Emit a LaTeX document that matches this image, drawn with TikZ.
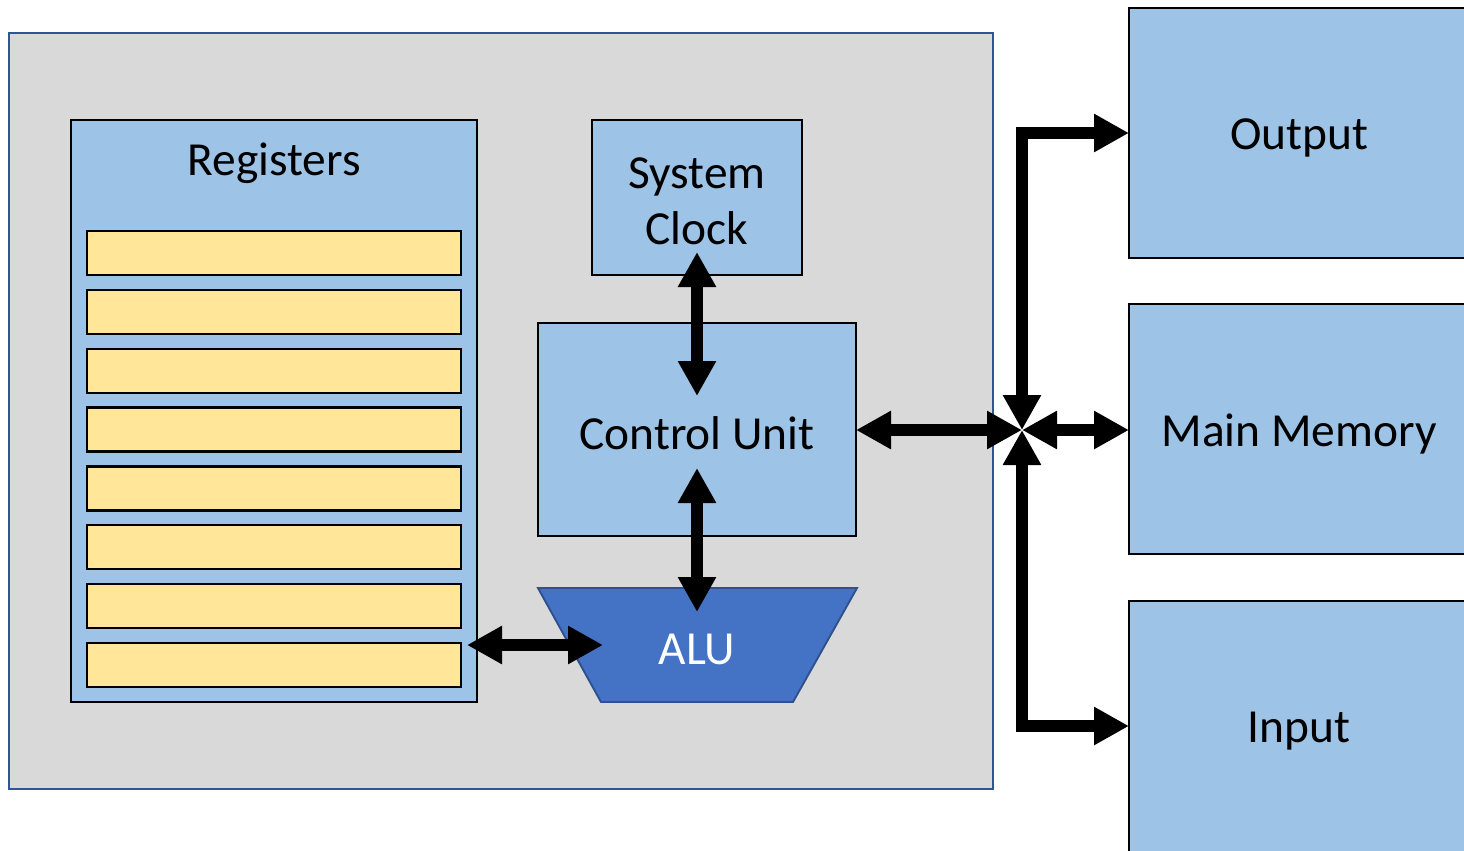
\documentclass[tikz,border=0pt]{standalone}
\usepackage{fontspec}
\setmainfont{Carlito}
\usetikzlibrary{arrows.meta,calc}
\definecolor{cpugray}{HTML}{D9D9D9}
\definecolor{cpuedge}{HTML}{2F5597}
\definecolor{unitblue}{HTML}{9DC3E6}
\definecolor{regyellow}{HTML}{FFE699}
\definecolor{alublue}{HTML}{4472C4}
\definecolor{aluedge}{HTML}{2F528F}
\newcommand{\upx}{0.02cm}
\begin{document}
\begin{tikzpicture}[x=0.02cm,y=-0.02cm,
  every node/.style={font=\fontsize{27}{32}\selectfont, inner sep=0pt, outer sep=0pt},
  cpubox/.style={draw=cpuedge, fill=cpugray, line width=1.1pt, minimum width=984*\upx, minimum height=756*\upx},
  unit/.style={draw=black, fill=unitblue, line width=1.3pt},
  slot/.style={draw=black, fill=regyellow, line width=1.3pt, minimum width=374*\upx, minimum height=44*\upx},
  alushape/.style={draw=aluedge, fill=alublue, line width=1.1pt},
  lbl/.style={align=center, text=black},
  dbl/.style={line width=12*\upx, {Triangle[length=35*\upx, width=36*\upx]}-{Triangle[length=35*\upx, width=36*\upx]}}
]
\useasboundingbox (0,0) rectangle (1464,850);
\clip (0,0) rectangle (1464,850);

% processor enclosure
\node[cpubox] (cpu) at (501,411) {};

% register file
\node[unit, minimum width=406*\upx, minimum height=582*\upx] (regs) at (274,411) {};
\node[lbl] (regslbl) at (274,163) {Registers};
\foreach \i in {0,...,7}
  \node[slot] (slot\i) at (274,{253+58.85*\i}) {};

% clock and control unit
\node[unit, minimum width=210*\upx, minimum height=155*\upx] (clock) at (697,197.5) {};
\node[lbl] (clocklbl) at (697,201) {System\\Clock};
\node[unit, minimum width=318*\upx, minimum height=213*\upx] (cu) at (697,429.5) {};
\node[lbl] (culbl) at (697,433) {Control Unit};

% arithmetic logic unit
\draw[alushape] (538,588) -- (857,588) -- (793,702) -- (601,702) -- cycle;
\node[lbl, text=white] (alu) at (697,649) {ALU};

% external devices
\node[unit, minimum width=340*\upx, minimum height=250*\upx] (out) at (1299,133) {};
\node[lbl] (outlbl) at (1299,138) {Output};
\node[unit, minimum width=340*\upx, minimum height=250*\upx] (mem) at (1299,429) {};
\node[lbl] (memlbl) at (1299,434) {Main Memory};
\node[unit, minimum width=340*\upx, minimum height=262*\upx] (in) at (1299,732) {};
\node[lbl] (inlbl) at (1299,731) {Input};

% bus junction
\coordinate (hub) at (1022,430);

% connectors
\draw[dbl] ($(clock.south)+(0,-23)$) -- ($(cu.north)+(0,73)$);
\draw[dbl] ($(cu.south)+(0,-68)$) -- ($(cu.south)+(0,76)$);
\draw[dbl] ($(regs.east |- alu)+(-10,-4)$) -- ($(alu)+(-94,-4)$);
\draw[dbl] (cu.east |- hub) -- (hub);
\draw[dbl] (hub) -- (mem.west |- hub);
\draw[dbl] (hub) |- (out.west);
\draw[dbl] (hub) |- ($(in.west)+(0,-6)$);
\end{tikzpicture}
\end{document}
